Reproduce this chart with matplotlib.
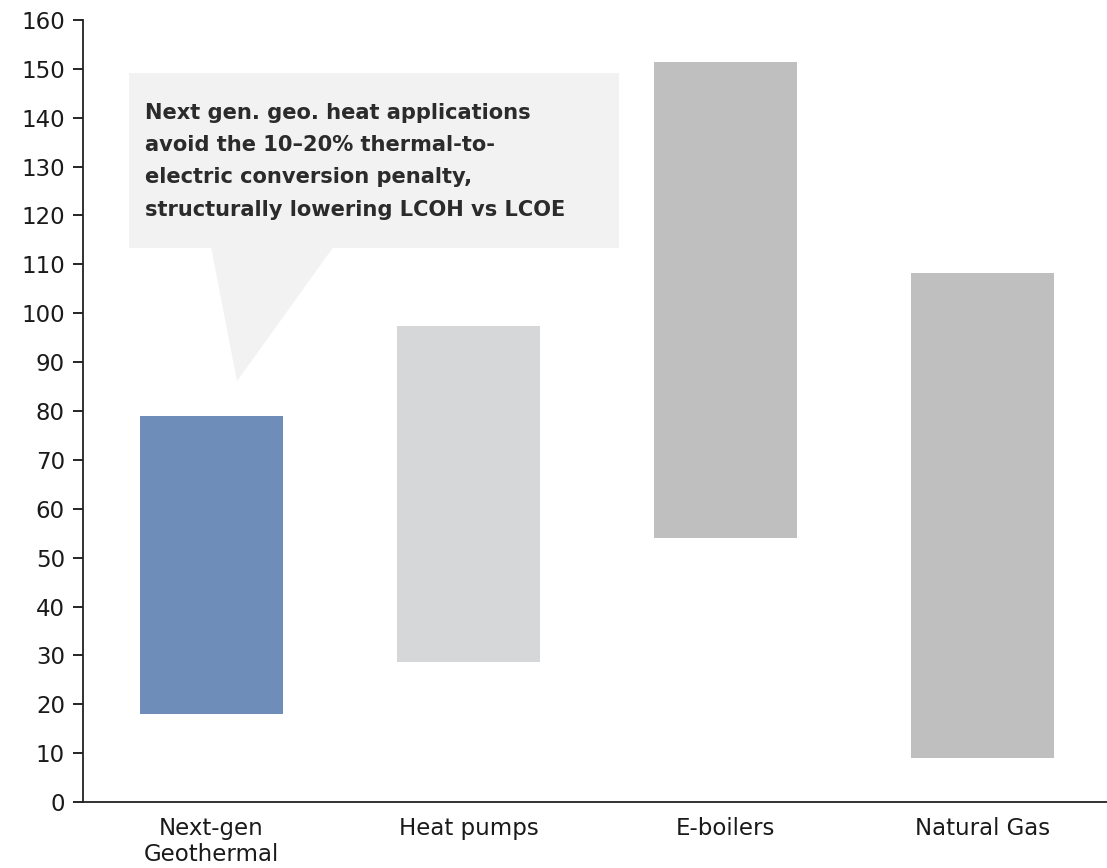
import matplotlib.pyplot as plt
from matplotlib.patches import Polygon, Rectangle

categories = ['Next-gen\nGeothermal', 'Heat pumps', 'E-boilers', 'Natural Gas']
low = [18, 28.7, 54, 9]
high = [79, 97.4, 151.4, 108.2]
colors = ['#6f8db9', '#d6d7d9', '#bfbfbf', '#bfbfbf']
note = ("Next gen. geo. heat applications\n"
        "avoid the 10\u201320% thermal-to-\n"
        "electric conversion penalty,\n"
        "structurally lowering LCOH vs LCOE")

plt.rcParams['font.family'] = 'DejaVu Sans'

fig = plt.figure(figsize=(11.07, 8.68), dpi=100)
ax = fig.add_axes([0.075, 0.076, 0.929, 0.901])

x = range(len(categories))
heights = [h - l for h, l in zip(high, low)]
ax.bar(x, heights, bottom=low, width=0.556, color=colors, edgecolor='none', zorder=2)

ax.set_xlim(-0.5, 3.5)
ax.set_ylim(0, 160)
ax.set_yticks(range(0, 161, 10))
ax.set_xticks(list(x))
ax.set_xticklabels(categories, fontsize=16.5, color='#1a1a1a', linespacing=1.15)
ax.tick_params(axis='y', labelsize=16.5, labelcolor='#1a1a1a', length=7, width=1.2, pad=6)
ax.tick_params(axis='x', length=0, pad=11)
for s in ['top', 'right']:
    ax.spines[s].set_visible(False)
for s in ['left', 'bottom']:
    ax.spines[s].set_linewidth(1.3)
    ax.spines[s].set_color('#222222')

# callout box with pointer towards the geothermal bar
box = Rectangle((-0.321, 113.3), 1.907, 35.9, facecolor='#f2f2f2', edgecolor='none', zorder=3)
ax.add_patch(box)
tail = Polygon([(-0.002, 113.5), (0.473, 113.5), (0.099, 86.1)], closed=True,
               facecolor='#f2f2f2', edgecolor='none', zorder=3)
ax.add_patch(tail)
ax.text(-0.26, 143.0, note, fontsize=15.1, fontweight='bold', color='#2b2b2b',
        va='top', ha='left', linespacing=1.76, zorder=4)

fig.savefig('out.png', dpi=100)
